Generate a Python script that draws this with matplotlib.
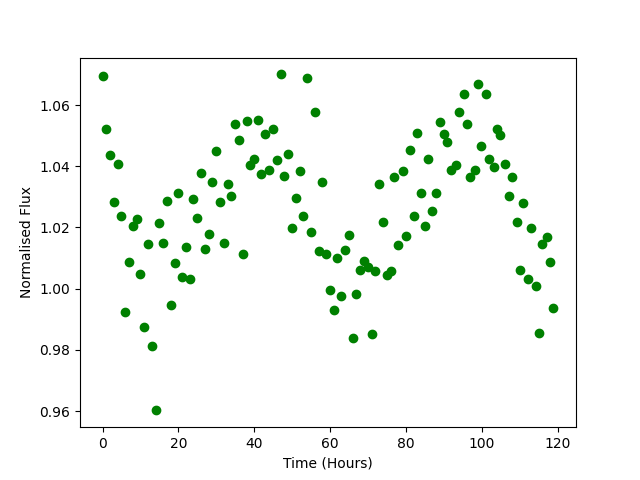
import matplotlib
matplotlib.use("Agg")
import matplotlib.pyplot as plt

time_hours = [
    0.0, 0.9, 1.9, 2.9, 4.0, 4.8, 5.9, 7.0, 7.9, 9.1,
    9.9, 10.9, 12.0, 13.0, 14.1, 14.9, 15.9, 17.0, 18.0, 19.1,
    19.8, 21.0, 22.0, 23.1, 23.9, 24.9, 26.0, 27.0, 28.1, 28.9,
    29.9, 31.0, 32.0, 33.0, 33.9, 34.9, 36.0, 37.1, 38.0, 39.0,
    40.0, 40.9, 41.9, 42.9, 43.9, 45.0, 46.0, 47.1, 47.9, 48.9,
    50.0, 51.1, 52.1, 52.9, 54.0, 55.0, 56.1, 57.1, 57.9, 59.0,
    60.0, 61.1, 61.9, 62.9, 64.0, 65.1, 66.1, 66.9, 68.0, 69.0,
    70.1, 71.1, 71.9, 73.0, 74.0, 74.9, 76.1, 76.9, 78.0, 79.1,
    80.1, 81.0, 82.0, 82.9, 84.1, 85.1, 85.9, 87.0, 88.0, 89.1,
    90.1, 90.9, 92.0, 93.1, 94.1, 95.2, 96.0, 97.0, 98.1, 99.1,
    99.8, 101.1, 102.0, 103.2, 104.1, 104.9, 106.0, 107.1, 108.1, 109.2,
    110.0, 111.0, 112.1, 113.1, 114.2, 115.0, 116.0, 117.1, 118.1, 118.9,
]

flux = [
    1.0696, 1.0523, 1.0438, 1.0284, 1.0408, 1.0236, 0.9922, 1.0086, 1.0206, 1.0226,
    1.0047, 0.9874, 1.0145, 0.9811, 0.9602, 1.0213, 1.0148, 1.0287, 0.9948, 1.0083,
    1.0314, 1.0037, 1.0135, 1.0030, 1.0292, 1.0232, 1.0379, 1.0128, 1.0177, 1.0350,
    1.0451, 1.0284, 1.0148, 1.0343, 1.0304, 1.0537, 1.0487, 1.0112, 1.0549, 1.0405,
    1.0425, 1.0552, 1.0373, 1.0504, 1.0387, 1.0523, 1.0419, 1.0700, 1.0367, 1.0439,
    1.0199, 1.0295, 1.0383, 1.0236, 1.0687, 1.0186, 1.0578, 1.0122, 1.0350, 1.0112,
    0.9994, 0.9931, 1.0101, 0.9977, 1.0127, 1.0174, 0.9838, 0.9984, 1.0060, 1.0089,
    1.0070, 0.9853, 1.0057, 1.0343, 1.0219, 1.0046, 1.0058, 1.0366, 1.0142, 1.0383,
    1.0171, 1.0454, 1.0236, 1.0510, 1.0314, 1.0206, 1.0425, 1.0252, 1.0314, 1.0546,
    1.0504, 1.0479, 1.0386, 1.0405, 1.0578, 1.0637, 1.0539, 1.0366, 1.0386, 1.0670,
    1.0467, 1.0637, 1.0425, 1.0399, 1.0521, 1.0501, 1.0408, 1.0304, 1.0366, 1.0219,
    1.0062, 1.0280, 1.0033, 1.0199, 1.0010, 0.9856, 1.0147, 1.0170, 1.0088, 0.9935,
]

fig, ax = plt.subplots(figsize=(6.4, 4.8), dpi=100)
ax.plot(time_hours, flux, 'o', color='green')
ax.set_xlabel('Time (Hours)')
ax.set_ylabel('Normalised Flux')
fig.savefig('out.png')
